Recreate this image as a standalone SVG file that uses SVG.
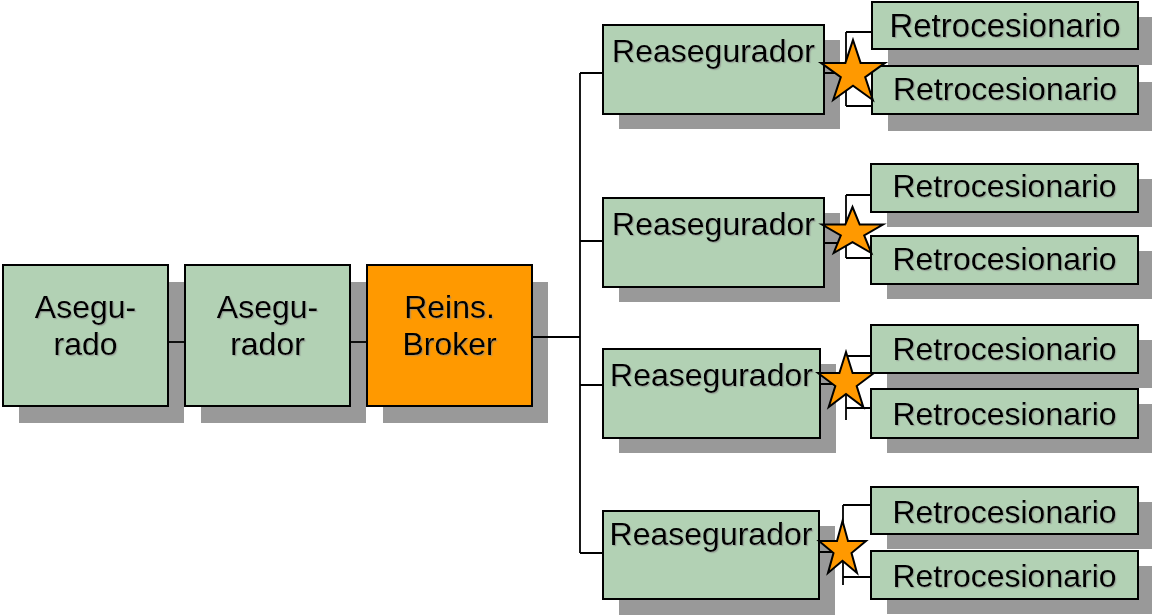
<svg xmlns="http://www.w3.org/2000/svg" width="1152" height="615" viewBox="0 0 1152 615">
<defs>
<filter id="ts" x="-5%" y="-20%" width="110%" height="140%">
<feDropShadow dx="1.2" dy="1.2" stdDeviation="0.2" flood-color="#888888" flood-opacity="0.6"/>
</filter>
<style>
.sh{fill:#999999;stroke:none}
.g{fill:#b2d1b4;stroke:#000;stroke-width:2}
.o{fill:#ff9900;stroke:#000;stroke-width:2}
.t{font-family:"Liberation Sans",Arial,sans-serif;font-size:32px;fill:#000;text-anchor:middle;filter:url(#ts)}
.c{fill:none;stroke:#000;stroke-width:1.8}
.star{fill:#ff9900;stroke:#000;stroke-width:2;stroke-linejoin:miter}
</style>
</defs>
<rect width="1152" height="615" fill="#fff"/>

<g id="asegurado">
<rect class="sh" x="19" y="282" width="165" height="141"/>
<rect class="g" x="3" y="265" width="165" height="141"/>
<text class="t" x="85.5" y="318">Asegu-</text>
<text class="t" x="85.5" y="355">rado</text>
</g>
<g id="asegurador">
<rect class="sh" x="201" y="282" width="165" height="141"/>
<rect class="g" x="185" y="265" width="165" height="141"/>
<text class="t" x="267.5" y="318">Asegu-</text>
<text class="t" x="267.5" y="355">rador</text>
</g>
<g id="broker">
<rect class="sh" x="383" y="282" width="165" height="141"/>
<rect class="o" x="367" y="265" width="165" height="141"/>
<text class="t" x="449.5" y="318">Reins.</text>
<text class="t" x="449.5" y="355">Broker</text>
</g>

<g id="reasegurador1">
<rect class="sh" x="619" y="40" width="221" height="89"/>
<rect class="g" x="603" y="25" width="221" height="89"/>
<text class="t" x="713.5" y="62">Reasegurador</text>
</g>
<g id="reasegurador2">
<rect class="sh" x="619" y="213" width="221" height="89"/>
<rect class="g" x="603" y="198" width="221" height="89"/>
<text class="t" x="713.5" y="235">Reasegurador</text>
</g>
<g id="reasegurador3">
<rect class="sh" x="619" y="364" width="217" height="89"/>
<rect class="g" x="603" y="349" width="217" height="89"/>
<text class="t" x="711.5" y="386">Reasegurador</text>
</g>
<g id="reasegurador4">
<rect class="sh" x="619" y="526" width="216" height="89"/>
<rect class="g" x="603" y="511" width="216" height="88"/>
<text class="t" x="711" y="545">Reasegurador</text>
</g>

<g id="retro1a">
<rect class="sh" x="888" y="17" width="266" height="48"/>
<rect class="g" x="872" y="2" width="266" height="47"/>
<text class="t" x="1005" y="37" style="font-size:33px">Retrocesionario</text>
</g>
<g id="retro1b">
<rect class="sh" x="888" y="82" width="266" height="49"/>
<rect class="g" x="872" y="66" width="266" height="48"/>
<text class="t" x="1005" y="100">Retrocesionario</text>
</g>
<g id="retro2a">
<rect class="sh" x="887" y="179" width="267" height="48"/>
<rect class="g" x="871" y="164" width="267" height="48"/>
<text class="t" x="1004.5" y="197">Retrocesionario</text>
</g>
<g id="retro2b">
<rect class="sh" x="887" y="251" width="267" height="48"/>
<rect class="g" x="871" y="236" width="267" height="48"/>
<text class="t" x="1004.5" y="270">Retrocesionario</text>
</g>
<g id="retro3a">
<rect class="sh" x="887" y="340" width="267" height="48"/>
<rect class="g" x="871" y="325" width="267" height="48"/>
<text class="t" x="1004.5" y="360">Retrocesionario</text>
</g>
<g id="retro3b">
<rect class="sh" x="887" y="404" width="267" height="49"/>
<rect class="g" x="871" y="389" width="267" height="49"/>
<text class="t" x="1004.5" y="425">Retrocesionario</text>
</g>
<g id="retro4a">
<rect class="sh" x="887" y="502" width="267" height="47"/>
<rect class="g" x="871" y="487" width="267" height="47"/>
<text class="t" x="1004.5" y="523">Retrocesionario</text>
</g>
<g id="retro4b">
<rect class="sh" x="887" y="566" width="267" height="48"/>
<rect class="g" x="871" y="551" width="267" height="48"/>
<text class="t" x="1004.5" y="587">Retrocesionario</text>
</g>

<g id="connectors" class="c">
<path d="M168,342 H185"/>
<path d="M350,342 H367"/>
<path d="M532,337 H580"/>
<path d="M580,73 V553"/>
<path d="M580,73 H603 M580,241 H603 M580,385 H603 M580,553 H603"/>
<path d="M824,73 H846 M846,32 V106 M846,32 H872 M846,106 H872"/>
<path d="M824,243 H846 M846,195 V258 M846,195 H871 M846,258 H871"/>
<path d="M820,384 H846 M846,356 V420 M846,356 H871 M846,408 H871"/>
<path d="M819,552 H843 M843,505 V585 M843,505 H871 M843,577 H871"/>
</g>

<g id="star1"><polygon class="star" points="853,40 860.6,62.9 885,62.9 865.2,77.1 872.8,100 853,85.8 833.2,100 840.8,77.1 821,62.9 845.4,62.9"/></g>
<g id="star2"><polygon class="star" points="852.5,207 859.7,224.6 883,224.6 864.2,235.4 871.3,253 852.5,242.1 833.7,253 840.8,235.4 822,224.6 845.3,224.6"/></g>
<g id="star3"><polygon class="star" points="846,352 852.6,373 874,373 856.7,386 863.3,407 846,394 828.7,407 835.3,386 818,373 839.4,373"/></g>
<g id="star4"><polygon class="star" points="842.5,521 848,540.9 866,540.9 851.5,553.1 857,573 842.5,560.7 828,573 833.5,553.1 819,540.9 837,540.9"/></g>
</svg>
